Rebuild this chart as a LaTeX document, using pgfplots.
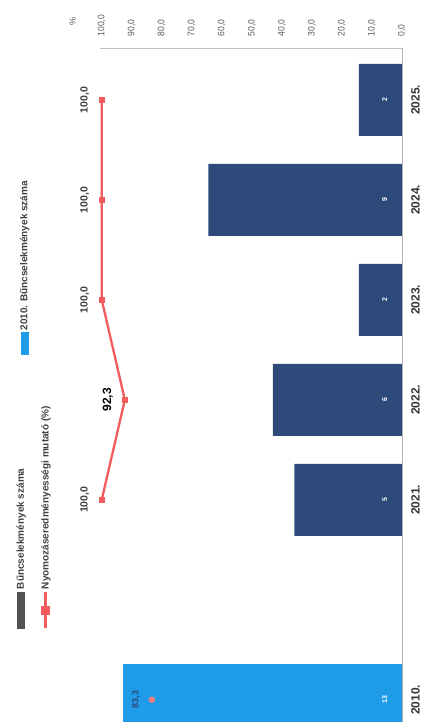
\documentclass[border=0pt]{standalone}
\usepackage{graphicx}
\usepackage{fontspec}
\setmainfont{Liberation Sans}
\newfontfamily\narrowfont[FakeStretch=0.9]{Liberation Sans}
\usepackage{pgfplots}
\pgfplotsset{compat=1.18}
\definecolor{barnavy}{HTML}{2E4A7B}
\definecolor{barblue}{HTML}{1F9CE8}
\definecolor{linered}{HTML}{F45B5E}
\definecolor{leggray}{HTML}{404040}
\definecolor{tickgray}{HTML}{5A5A5A}
\begin{document}
\rotatebox{90}{%
\begin{tikzpicture}
\path (0pt,0pt) rectangle (722pt,428pt);
\begin{axis}[
  name=ax1,
  at={(0pt,26pt)}, anchor=south west,
  scale only axis, width=674pt, height=302pt,
  xmin=-0.22, xmax=6.52, ymin=0, ymax=14.05,
  axis x line*=bottom, axis y line=none,
  x axis line style={draw=gray!60, line width=0.6pt, -},
  xtick={0,2,3,4,5,6},
  xticklabels={2010.,2021.,2022.,2023.,2024.,2025.},
  major tick length=0pt,
  xticklabel style={font=\bfseries\fontsize{12}{12}\selectfont, text=leggray!80!black, yshift=-6pt},
  legend style={at={(0.1365,1.284)}, anchor=north west, draw=none, fill=none,
     font=\bfseries\fontsize{10}{12}\selectfont, text=leggray, row sep=12pt, inner sep=0pt},
  legend cell align=left,
]
\addlegendimage{legend image code/.code={\fill[leggray!90] (0pt,-3.5pt) rectangle (36pt,3.5pt);}}
\addlegendentry{Bűncselekmények száma}
\addlegendimage{legend image code/.code={\draw[linered, line width=2.5pt] (0pt,0pt) -- (36pt,0pt); \fill[linered] (14pt,-4pt) rectangle (22pt,4pt);}}
\addlegendentry{Nyomozáseredményességi mutató (\%)}
\addplot[ybar, bar width=0.72, bar shift=0pt, fill=barnavy, draw=none, forget plot] coordinates {(2,5) (3,6) (4,2) (5,9) (6,2)};
\addplot[ybar, bar width=0.72, bar shift=0pt, fill=barblue, draw=none, forget plot] coordinates {(0,13)};
\addplot[draw=none, mark=none, forget plot, nodes near coords, point meta=explicit symbolic,
  every node near coord/.append style={font=\bfseries\fontsize{7}{7}\selectfont, text=white, anchor=center}]
  coordinates {(0,0.8)[13] (2,0.8)[5] (3,0.8)[6] (4,0.8)[2] (5,0.8)[9] (6,0.8)[2]};
\end{axis}
\begin{axis}[
  at={(ax1.south west)}, anchor=south west,
  scale only axis, width=674pt, height=302pt,
  xmin=-0.22, xmax=6.52, ymin=0, ymax=100.6,
  axis x line=none, axis y line*=right,
  y axis line style={draw=gray!50, line width=0.6pt, -},
  ytick={0,10,...,100},
  major tick length=0pt,
  /pgf/number format/fixed, /pgf/number format/fixed zerofill,
  /pgf/number format/precision=1, /pgf/number format/use comma,
  /pgf/number format/assume math mode=true,
  yticklabel style={font=\narrowfont\fontsize{9.5}{10}\selectfont, text=tickgray, anchor=west, xshift=8pt},
  ylabel={\%},
  every axis y label/.style={at={(rel axis cs:1.0386,1.09)}, anchor=center, font=\fontsize{9}{9}\selectfont, text=tickgray},
  legend style={at={(0.5445,1.25)}, anchor=west, draw=none, fill=none,
     font=\bfseries\fontsize{10}{12}\selectfont, text=leggray, inner sep=0pt},
  clip=false,
]
\addlegendimage{legend image code/.code={\fill[barblue] (0pt,-3.5pt) rectangle (22pt,3.5pt);}}
\addlegendentry{2010. Bűncselekmények száma}
\addplot[linered, line width=2.3pt, mark=square*, mark size=2pt, forget plot] coordinates {(2,100) (3,92.3) (4,100) (5,100) (6,100)};
\addplot[only marks, mark=*, mark size=3pt, color=linered!80!white, forget plot] coordinates {(0,83.3)};
\addplot[draw=none, mark=none, forget plot, nodes near coords, point meta=y,
  every node near coord/.append style={font=\bfseries\fontsize{10.5}{11}\selectfont, text=leggray, anchor=center, yshift=17pt}]
  coordinates {(2,100) (4,100) (5,100) (6,100)};
\addplot[draw=none, mark=none, forget plot, nodes near coords, point meta=y,
  every node near coord/.append style={font=\bfseries\fontsize{12}{12}\selectfont, text=black, anchor=center, yshift=17pt}]
  coordinates {(3,92.3)};
\addplot[draw=none, mark=none, forget plot, nodes near coords, point meta=y,
  every node near coord/.append style={font=\bfseries\fontsize{9}{9}\selectfont, text=barnavy, anchor=center, yshift=16pt}]
  coordinates {(0,83.3)};
\end{axis}
\end{tikzpicture}}
\end{document}
